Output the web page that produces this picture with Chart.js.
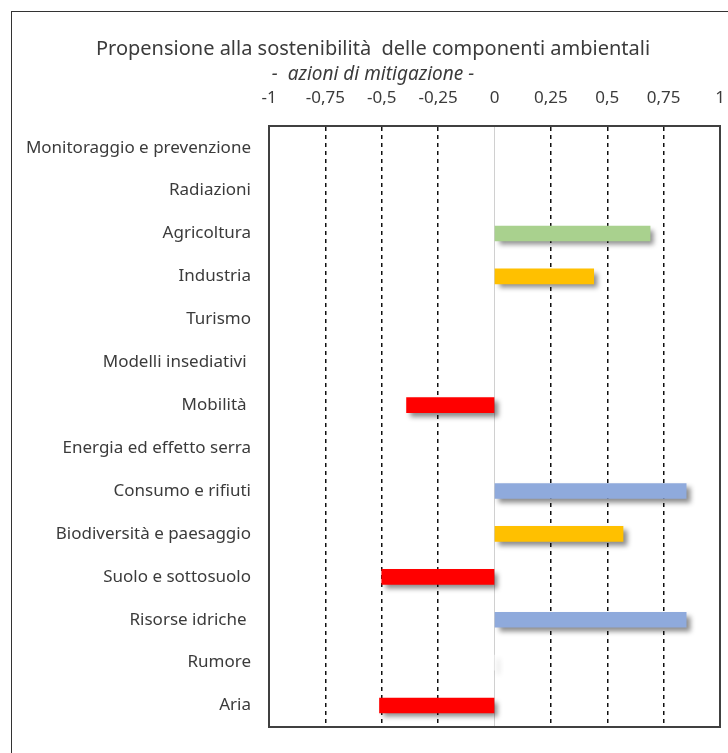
<!DOCTYPE html>
<html>
<head>
<meta charset="utf-8">
<script src="https://cdn.jsdelivr.net/npm/chart.js@4/dist/chart.umd.min.js"></script>
<style>
  html, body { margin: 0; padding: 0; background: #fff; overflow: hidden; }
  #frame { position: absolute; left: 11px; top: 11px; width: 800px; height: 800px;
           border-left: 1px solid #333; border-top: 1px solid #333; }
  #wrap { position: absolute; left: 0; top: 0; width: 728px; height: 753px; }
</style>
</head>
<body>
<div id="frame"></div>
<div id="wrap"><canvas id="c" width="728" height="753"></canvas></div>
<script>
// Componenti ambientali, dall'alto verso il basso
const categories = [
  'Monitoraggio e prevenzione',
  'Radiazioni',
  'Agricoltura',
  'Industria',
  'Turismo',
  'Modelli insediativi ',
  'Mobilità ',
  'Energia ed effetto serra',
  'Consumo e rifiuti',
  'Biodiversità e paesaggio',
  'Suolo e sottosuolo',
  'Risorse idriche ',
  'Rumore',
  'Aria'
];

// Propensione alla sostenibilità (-1 … 1); null = nessuna azione
const values = [null, null, 0.69, 0.44, null, null, -0.39, null, 0.85, 0.57, -0.5, 0.85, 0, -0.51];

// Colore di ciascuna barra
const barColors = [
  '#ffffff', '#ffffff', '#a9d18e', '#ffc000', '#ffffff', '#ffffff', '#ff0000',
  '#ffffff', '#8faadc', '#ffc000', '#ff0000', '#8faadc', '#eeeeee', '#ff0000'
];

// Etichette dell'asse orizzontale
const tickLabels = ['-1', '-0,75', '-0,5', '-0,25', '0', '0,25', '0,5', '0,75', '1'];

const FONT = "'Noto Sans', 'Open Sans', sans-serif";
const TEXT = '#3b3b3b';

// Ombra sotto le barre
const barShadow = {
  id: 'barShadow',
  beforeDatasetDraw(chart) {
    const c = chart.ctx;
    c.save();
    c.shadowColor = 'rgba(0,0,0,0.45)';
    c.shadowBlur = 5;
    c.shadowOffsetX = 4;
    c.shadowOffsetY = 4;
  },
  afterDatasetDraw(chart) {
    chart.ctx.restore();
  }
};

const isEdge = v => v === -1 || v === 1;

new Chart(document.getElementById('c'), {
  type: 'bar',
  data: {
    labels: categories,
    datasets: [{
      data: values,
      backgroundColor: barColors,
      borderWidth: 0,
      barThickness: 15
    }]
  },
  plugins: [barShadow],
  options: {
    indexAxis: 'y',
    responsive: false,
    animation: false,
    layout: { padding: { left: 26, right: 8, top: 0, bottom: 26 } },
    plugins: {
      legend: { display: false },
      tooltip: { enabled: false },
      title: {
        display: true,
        text: 'Propensione alla sostenibilità  delle componenti ambientali',
        color: TEXT,
        font: { family: FONT, size: 20, weight: 'normal' },
        padding: { top: 37, bottom: 2 }
      },
      subtitle: {
        display: true,
        text: '-  azioni di mitigazione -',
        color: TEXT,
        font: { family: FONT, size: 19, style: 'italic' },
        padding: { top: 0, bottom: -16 }
      }
    },
    scales: {
      x: {
        position: 'top',
        min: -1,
        max: 1,
        afterFit: s => { s.paddingLeft = 0; s.paddingRight = 0; },
        ticks: {
          stepSize: 0.25,
          color: TEXT,
          font: { family: FONT, size: 17 },
          padding: 18,
          callback: (v, i) => tickLabels[i]
        },
        grid: {
          drawTicks: false,
          color: ctx => ctx.tick.value === 0 ? '#d0d0d0' : (isEdge(ctx.tick.value) ? '#404040' : '#111'),
          lineWidth: ctx => isEdge(ctx.tick.value) ? 2 : (ctx.tick.value === 0 ? 1 : 1.5)
        },
        border: {
          color: '#404040',
          width: 2,
          dash: ctx => (!ctx.tick || isEdge(ctx.tick.value) || ctx.tick.value === 0) ? [] : [4, 4]
        }
      },
      x2: {
        position: 'bottom',
        min: -1,
        max: 1,
        afterFit: s => { s.paddingLeft = 0; s.paddingRight = 0; },
        ticks: { display: false },
        grid: { display: false, drawTicks: false },
        border: { display: true, color: '#404040', width: 2 }
      },
      y: {
        afterFit: s => { s.width = 243; s.paddingTop = 0; s.paddingBottom = 0; },
        ticks: {
          color: TEXT,
          font: { family: FONT, size: 17 },
          padding: 18
        },
        grid: { display: false, drawTicks: false },
        border: { display: true, color: '#404040', width: 2 }
      }
    }
  }
});
</script>
</body>
</html>
